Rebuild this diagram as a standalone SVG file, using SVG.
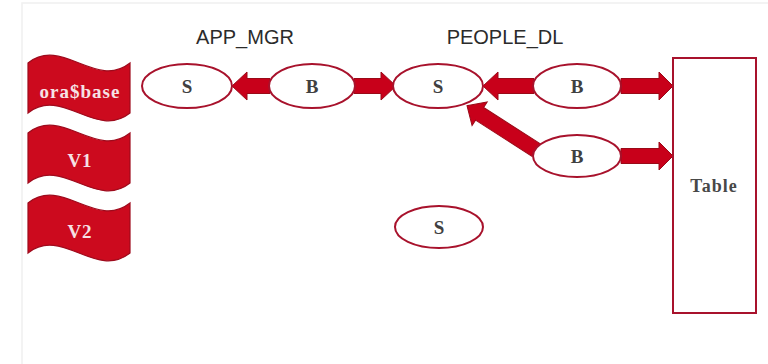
<svg xmlns="http://www.w3.org/2000/svg" width="768" height="364" viewBox="0 0 768 364">
  <style>
    .frame { fill: #ffffff; stroke: #f0f0f0; stroke-width: 1.5; }
    .flag { fill: #cc0a1e; stroke: #9e0a1c; stroke-width: 1.2; }
    .flagtxt { font-family: "Liberation Serif", "DejaVu Serif", serif; font-size: 19px; font-weight: bold; letter-spacing: 1px; fill: #f6e2e5; text-anchor: middle; }
    .oval { fill: #ffffff; stroke: #a8122c; stroke-width: 2; }
    .lbl { font-family: "Liberation Serif", "DejaVu Serif", serif; font-size: 19px; font-weight: bold; fill: #404040; text-anchor: middle; }
    .tbl { font-family: "Liberation Serif", "DejaVu Serif", serif; font-size: 18px; font-weight: bold; letter-spacing: 1px; fill: #484848; text-anchor: middle; }
    .title { font-family: "Liberation Sans", Arial, sans-serif; font-size: 20px; fill: #2b2b2b; text-anchor: middle; }
    .box { fill: #ffffff; stroke: #a8122c; stroke-width: 2; }
    .arrow { fill: #c8001a; stroke: #9a0a18; stroke-width: 1; stroke-linejoin: miter; }
  </style>

  <rect class="frame" x="22" y="3" width="750" height="365"/>

  <!-- schema titles -->
  <text class="title" x="245" y="44">APP_MGR</text>
  <text class="title" x="505" y="44">PEOPLE_DL</text>

  <!-- edition flags -->
  <g id="flag-orabase">
    <path class="flag" d="M28,63 C62,36 96,90 130,63 L130,113 C96,140 62,86 28,113 Z"/>
    <text class="flagtxt" x="80" y="98">ora$base</text>
  </g>
  <g id="flag-v1">
    <path class="flag" d="M28,133 C62,106 96,160 130,133 L130,183 C96,210 62,156 28,183 Z"/>
    <text class="flagtxt" x="80" y="167">V1</text>
  </g>
  <g id="flag-v2">
    <path class="flag" d="M28,203 C62,176 96,230 130,203 L130,253 C96,280 62,226 28,253 Z"/>
    <text class="flagtxt" x="80" y="238">V2</text>
  </g>

  <!-- block arrows -->
  <g id="connectors">
    <polygon class="arrow" points="232,86 247,72 247,78.5 270,78.5 270,93.5 247,93.5 247,100"/>
    <polygon class="arrow" points="354,78.5 381,78.5 381,72 396,86 381,100 381,93.5 354,93.5"/>
    <polygon class="arrow" points="483,86 498,72 498,78.5 534,78.5 534,93.5 498,93.5 498,100"/>
    <polygon class="arrow" points="621,78.5 659,78.5 659,72 673,86 659,100 659,93.5 621,93.5"/>
    <polygon class="arrow" points="621,148.5 659,148.5 659,142 673,156 659,170 659,163.5 621,163.5"/>
    <polygon class="arrow" transform="translate(536,150) rotate(212.7)" points="0,-7.5 67,-7.5 67,-14 82,0 67,14 67,7.5 0,7.5"/>
  </g>

  <!-- editioned objects -->
  <g id="app-mgr-s">
    <ellipse class="oval" cx="187" cy="86" rx="45" ry="22"/>
    <text class="lbl" x="187" y="93">S</text>
  </g>
  <g id="app-mgr-b">
    <ellipse class="oval" cx="312" cy="86" rx="43" ry="22"/>
    <text class="lbl" x="312" y="93">B</text>
  </g>
  <g id="people-dl-s">
    <ellipse class="oval" cx="438" cy="86" rx="45" ry="22"/>
    <text class="lbl" x="438" y="93">S</text>
  </g>
  <g id="people-dl-b1">
    <ellipse class="oval" cx="577" cy="86" rx="44" ry="22"/>
    <text class="lbl" x="577" y="93">B</text>
  </g>
  <g id="people-dl-b2">
    <ellipse class="oval" cx="577" cy="156" rx="44" ry="21"/>
    <text class="lbl" x="577" y="163">B</text>
  </g>
  <g id="people-dl-s2">
    <ellipse class="oval" cx="439" cy="227" rx="44" ry="21"/>
    <text class="lbl" x="439" y="234">S</text>
  </g>

  <!-- base table -->
  <g id="table">
    <rect class="box" x="673" y="58" width="83" height="255"/>
    <text class="tbl" x="714" y="192">Table</text>
  </g>
</svg>
